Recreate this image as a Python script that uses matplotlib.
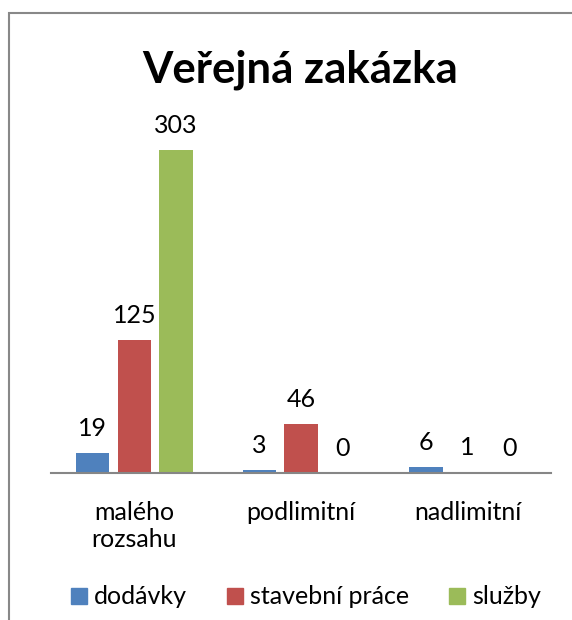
import matplotlib.pyplot as plt
from matplotlib.patches import Rectangle, Patch
import numpy as np

plt.rcParams['font.family'] = ['Lato', 'DejaVu Sans']

title = 'Veřejná zakázka'
categories = ['malého\nrozsahu', 'podlimitní', 'nadlimitní']
series_names = ['dodávky', 'stavební práce', 'služby']
dodavky = [19, 3, 6]
stavebni_prace = [125, 46, 1]
sluzby = [303, 0, 0]
colors = ['#4F81BD', '#C0504D', '#9BBB59']

fig = plt.figure(figsize=(5.72, 6.2), dpi=100)
ax = fig.add_axes([51 / 572, 1 - 473 / 620, 500 / 572, 352 / 620])

x = np.arange(len(categories))
width = 0.2
offsets = [-0.25, 0, 0.25]
for vals, off, col, name in zip([dodavky, stavebni_prace, sluzby], offsets, colors, series_names):
    bars = ax.bar(x + off, vals, width, color=col, label=name)
    ax.bar_label(bars, padding=9, fontsize=18, color='black')

ax.set_xlim(-0.5, 2.5)
ax.set_ylim(0, 330)
ax.set_xticks(x)
ax.set_xticklabels(categories, fontsize=18, linespacing=1.2)
ax.tick_params(axis='x', length=0, pad=20)
ax.set_yticks([])
for s in ['left', 'right', 'top']:
    ax.spines[s].set_visible(False)
ax.spines['bottom'].set_color('#868686')
ax.spines['bottom'].set_linewidth(1.5)

fig.text(300 / 572, 1 - 70 / 620, title, ha='center', va='center',
         fontsize=31.5, fontweight='bold')

handles = [Patch(color=c) for c in colors]
fig.legend(handles, series_names, loc='center', bbox_to_anchor=(306 / 572, 1 - 597 / 620),
           ncol=3, frameon=False, fontsize=18, handlelength=0.62, handleheight=0.62,
           handletextpad=0.3, columnspacing=1.6)

# outer frame (partly cropped like the original)
fig.add_artist(Rectangle((9 / 572, -0.1), 2, 1 - 12.5 / 620 + 0.1, transform=fig.transFigure,
                         fill=False, edgecolor='#888888', lw=1.5))

fig.savefig('out.png', dpi=100)
